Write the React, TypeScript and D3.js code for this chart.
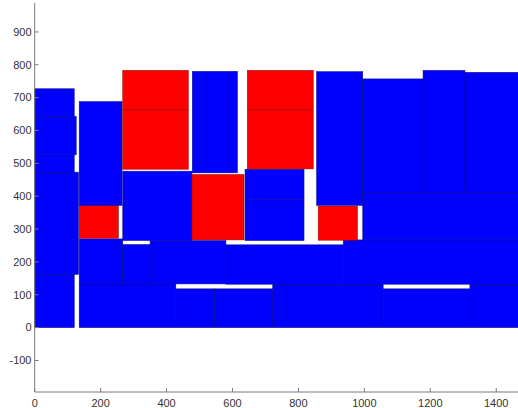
import React from 'react';
import * as d3 from 'd3';

// packed rectangles (data units)
const xStart = [0, 135, 428, 545, 722, 1057, 1320, 135, 267, 350, 580, 936, 0, 0, 0, 0, 135, 135, 267, 267, 267, 477, 478, 638, 638, 645, 645, 860, 855, 995, 995, 1178, 1305];
const xEnd = [120, 428, 545, 722, 1057, 1320, 1470, 267, 350, 580, 936, 1470, 133, 120, 126, 120, 254, 265, 477, 466, 466, 635, 615, 817, 817, 845, 845, 979, 995, 1470, 1178, 1305, 1470];
const yStart = [0, 0, 0, 0, 0, 0, 0, 133, 133, 133, 132, 132, 162, 473, 526, 643, 272, 372, 265, 482, 663, 267, 471, 265, 389, 483, 663, 266, 372, 267, 412, 412, 412];
const yEnd = [162, 133, 118, 118, 132, 118, 132, 270, 253, 265, 252, 267, 473, 526, 643, 727, 372, 688, 476, 663, 783, 466, 780, 389, 482, 663, 783, 370, 779, 412, 757, 783, 777];
const itemType = ['B', 'B', 'B', 'B', 'B', 'B', 'B', 'B', 'B', 'B', 'B', 'B', 'B', 'B', 'B', 'B', 'R', 'B', 'B', 'R', 'R', 'R', 'B', 'B', 'B', 'R', 'R', 'R', 'B', 'B', 'B', 'B', 'B'];

const xTicks = [0, 200, 400, 600, 800, 1000, 1200, 1400];
const yTicks = [-100, 0, 100, 200, 300, 400, 500, 600, 700, 800, 900];

const App = () => {
  const width = 518;
  const height = 408;

  const x = d3.scaleLinear().domain([0, 1466]).range([34.7, 518]);
  const y = d3.scaleLinear().domain([-196, 988]).range([392, 3]);
  const color = d3.scaleOrdinal<string, string>().domain(['B', 'R']).range(['#0000ff', '#ff0000']);
  const edge = d3.scaleOrdinal<string, string>().domain(['B', 'R']).range(['#000080', '#800000']);

  const rects = xStart.map((x0, i) => ({ x0, x1: xEnd[i], y0: yStart[i], y1: yEnd[i], t: itemType[i] }));

  const axisColor = '#7a7a7a';
  const textColor = '#333';
  const font = 'Liberation Sans, Arial, sans-serif';

  return (
    <svg width={width} height={height} style={{ position: 'absolute', left: 0, top: 0, background: '#fff' }}>
      {rects.map((r, i) => (
        <rect
          key={i}
          x={x(r.x0)}
          y={y(r.y1)}
          width={x(r.x1) - x(r.x0)}
          height={y(r.y0) - y(r.y1)}
          fill={color(r.t)}
          stroke={edge(r.t)}
          strokeOpacity={0.8}
          strokeWidth={0.6}
        />
      ))}

      {/* axes */}
      <line x1={x(0)} x2={x(0)} y1={y.range()[1]} y2={y.range()[0]} stroke={axisColor} strokeWidth={1} />
      <line x1={x(0)} x2={width} y1={y.range()[0]} y2={y.range()[0]} stroke={axisColor} strokeWidth={1} />

      {yTicks.map(t => (
        <g key={'y' + t}>
          <line x1={x(0)} x2={x(0) + 4} y1={y(t)} y2={y(t)} stroke={axisColor} />
          <text x={31.5} y={y(t)} dy="0.35em" textAnchor="end" fontFamily={font} fontSize={11} fill={textColor}>{t}</text>
        </g>
      ))}

      {xTicks.map(t => (
        <g key={'x' + t}>
          <line x1={x(t)} x2={x(t)} y1={y.range()[0]} y2={y.range()[0] - 4} stroke={axisColor} />
          <text x={x(t)} y={406.5} textAnchor="middle" fontFamily={font} fontSize={11} fill={textColor}>{t}</text>
        </g>
      ))}
    </svg>
  );
};

export default App;
